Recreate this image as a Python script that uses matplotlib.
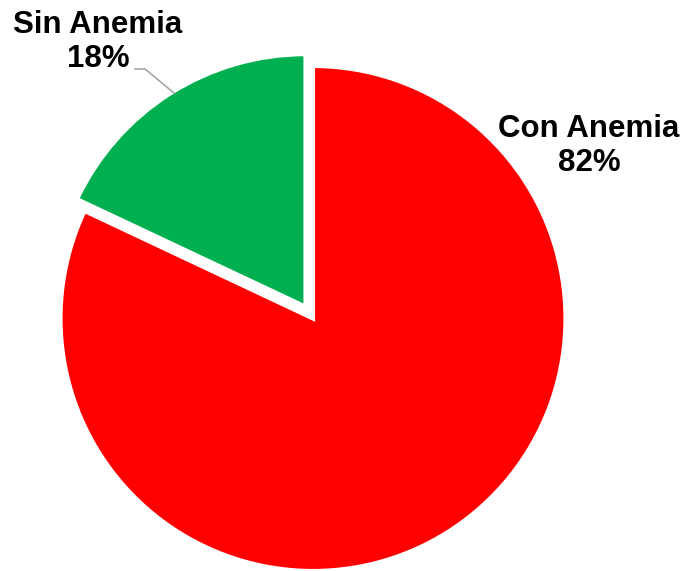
import matplotlib.pyplot as plt

# Anemia data
categories = ['Con Anemia', 'Sin Anemia']
values = [82, 18]
colors = ['#FF0000', '#00B050']

fig = plt.figure(figsize=(6.85, 5.71), dpi=100)
ax = fig.add_axes([0, 0, 1, 1])

# Pie in pixel-like coordinates (explode is in data units here)
ax.pie(values, colors=colors, startangle=90, counterclock=False,
       explode=[0, 14], center=(313, 252.5), radius=252.5,
       wedgeprops=dict(edgecolor='white', linewidth=3))

ax.set_xlim(0, 685)
ax.set_ylim(0, 571)
ax.set_aspect('equal')
ax.axis('off')

# Labels
font = dict(family='Liberation Sans', fontsize=22.5, fontweight='bold',
            ha='center', va='center', linespacing=1.2)
ax.text(589, 571 - 146, f'{categories[0]}\n{values[0]}%', **font)
ax.text(98, 571 - 42, f'{categories[1]}\n{values[1]}%', **font)

# Leader line for the small slice
ax.plot([135, 145, 174], [571 - 69, 571 - 69, 571 - 93], color='#A6A6A6', lw=1.2)

plt.savefig('out.png', dpi=100)
